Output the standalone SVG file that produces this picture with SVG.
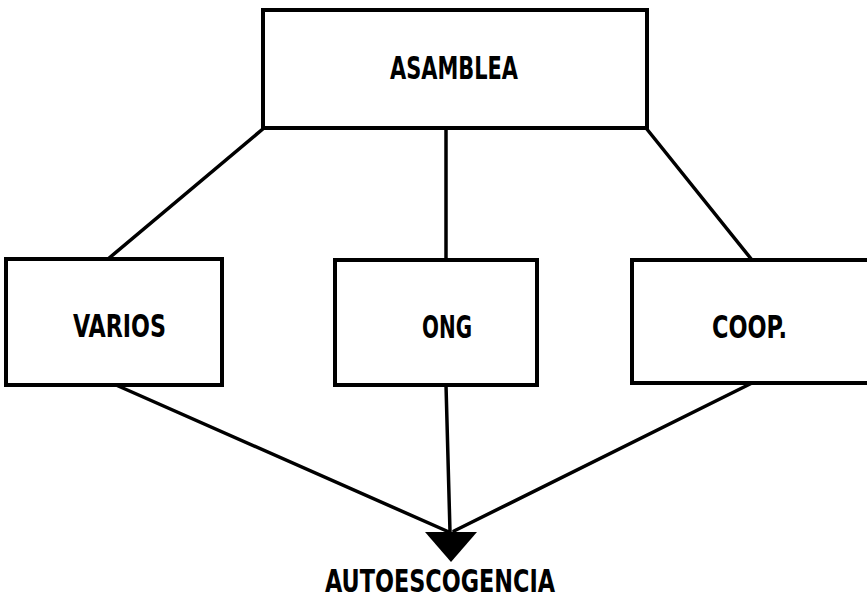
<svg xmlns="http://www.w3.org/2000/svg" width="867" height="601" viewBox="0 0 867 601">
  <style>
    .box { fill: #ffffff; stroke: #000000; stroke-width: 4; }
    .link { stroke: #000000; stroke-width: 3.5; fill: none; stroke-linecap: round; }
    .label { font-family: "DejaVu Sans", "Liberation Sans", sans-serif; font-weight: bold; font-stretch: condensed; font-size: 32px; fill: #000000; text-anchor: middle; }
  </style>
  <rect width="867" height="601" fill="#ffffff"/>

  <!-- connectors -->
  <g id="connectors">
    <line class="link" x1="264" y1="128" x2="108" y2="259"/>
    <line class="link" x1="446" y1="128" x2="446" y2="260"/>
    <line class="link" x1="646" y1="128" x2="752" y2="260"/>
    <line class="link" x1="116" y1="385" x2="449" y2="532"/>
    <line class="link" x1="446" y1="385" x2="450" y2="532"/>
    <line class="link" x1="752" y1="383" x2="454" y2="531"/>
    <polygon points="425,532 477,532 451,562" fill="#000000"/>
  </g>

  <g id="asamblea">
    <rect class="box" x="263" y="10" width="384" height="118"/>
    <text class="label" x="454" y="79" textLength="128" lengthAdjust="spacingAndGlyphs">ASAMBLEA</text>
  </g>

  <g id="varios">
    <rect class="box" x="6" y="259" width="216" height="126"/>
    <text class="label" x="119.5" y="337" textLength="93" lengthAdjust="spacingAndGlyphs">VARIOS</text>
  </g>

  <g id="ong">
    <rect class="box" x="335" y="260" width="202" height="125"/>
    <text class="label" x="447" y="338" textLength="50" lengthAdjust="spacingAndGlyphs">ONG</text>
  </g>

  <g id="coop">
    <rect class="box" x="632" y="260" width="240" height="123"/>
    <text class="label" x="749.5" y="338" textLength="75" lengthAdjust="spacingAndGlyphs">COOP.</text>
  </g>

  <g id="autoescogencia">
    <text class="label" x="440" y="592" textLength="230" lengthAdjust="spacingAndGlyphs">AUTOESCOGENCIA</text>
  </g>
</svg>
